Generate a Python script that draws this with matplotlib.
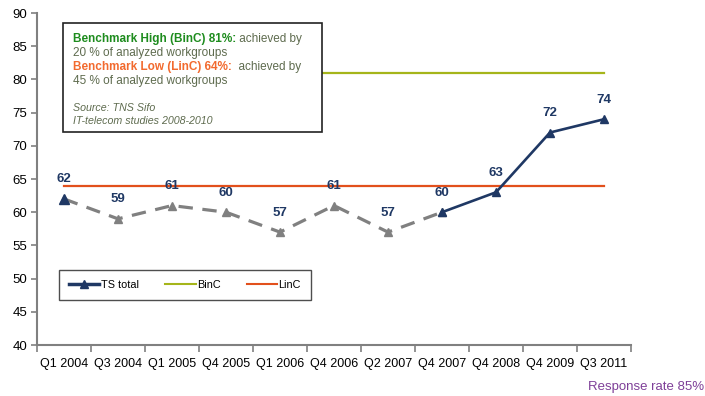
import matplotlib.pyplot as plt
from matplotlib.patches import Rectangle
from matplotlib.lines import Line2D
from matplotlib.text import Annotation

plt.rcParams['font.family'] = ['Liberation Sans', 'DejaVu Sans']

# survey rounds and total satisfaction score
quarters = ['Q1 2004', 'Q3 2004', 'Q1 2005', 'Q4 2005', 'Q1 2006', 'Q4 2006',
            'Q2 2007', 'Q4 2007', 'Q4 2008', 'Q4 2009', 'Q3 2011']
ts_total = [62, 59, 61, 60, 57, 61, 57, 60, 63, 72, 74]
binc = 81   # benchmark high
linc = 64   # benchmark low
split = 7   # rounds before this index are drawn dashed

navy = '#1F3864'
grey = '#808080'
c_binc = '#A5B51A'
c_linc = '#E2501C'

fig = plt.figure(figsize=(7.05, 3.96), dpi=100)
ax = fig.add_axes([37/705, 51/396, 594/705, 332/396])

x = list(range(len(quarters)))

# benchmark lines
ax.plot([x[0], x[-1]], [binc, binc], color=c_binc, lw=1.6, zorder=2)
ax.plot([x[0], x[-1]], [linc, linc], color=c_linc, lw=1.6, zorder=2)

# older rounds dashed grey, recent rounds solid navy
ax.plot(x[:split + 1], ts_total[:split + 1], color=grey, lw=2.3,
        dashes=(4.5, 3), marker='^', ms=6, mfc=grey, mec=grey, zorder=3)
ax.plot(x[split:], ts_total[split:], color=navy, lw=1.9,
        marker='^', ms=6, mfc=navy, mec=navy, zorder=4)
ax.plot(x[0], ts_total[0], marker='^', ms=7, color=navy, zorder=5)

for xi, v in zip(x, ts_total):
    ax.annotate(str(v), (xi, v), xytext=(0, 14), textcoords='offset points',
                ha='center', va='center', fontsize=9.5, fontweight='bold',
                color=navy, zorder=6)

ax.set_xlim(-0.5, len(quarters) - 0.5)
ax.set_ylim(40, 90)
ax.set_yticks(range(40, 91, 5))
ax.set_xticks(x)
ax.set_xticklabels(quarters)
ax.set_xticks([i - 0.5 for i in range(len(quarters) + 1)], minor=True)
ax.tick_params(axis='x', which='major', length=0, pad=9, labelsize=9)
ax.tick_params(axis='x', which='minor', length=5, width=1.2, color=grey)
ax.tick_params(axis='y', length=4, width=1.2, color=grey, labelsize=9.5, pad=3)
for s in ['top', 'right']:
    ax.spines[s].set_visible(False)
for s in ['left', 'bottom']:
    ax.spines[s].set_color(grey)
    ax.spines[s].set_linewidth(1.5)

# info box with benchmark description
box = Rectangle((63/705, 1 - 132/396), (322 - 63)/705, (132 - 23)/396,
                transform=fig.transFigure, facecolor='white',
                edgecolor='#222222', lw=1.2, zorder=7)
fig.add_artist(box)

txt = '#5E6B4E'
fs = 8.5
x0 = 73/705

def two_part(y, head, color, tail):
    t1 = fig.text(x0, 1 - y/396, head, color=color, fontsize=fs,
                  fontweight='bold', va='baseline', zorder=8)
    t2 = Annotation(tail, xy=(1, 0), xycoords=t1, va='bottom', ha='left',
                    color=txt, fontsize=fs, annotation_clip=False)
    t2.set_zorder(8)
    fig.add_artist(t2)

two_part(42, 'Benchmark High (BinC) 81%:', '#1E8C1E', ' achieved by')
fig.text(x0, 1 - 56/396, '20 % of analyzed workgroups', color=txt,
         fontsize=fs, va='baseline', zorder=8)
two_part(70, 'Benchmark Low (LinC) 64%:', '#F26A2E', '  achieved by')
fig.text(x0, 1 - 84/396, '45 % of analyzed workgroups', color=txt,
         fontsize=fs, va='baseline', zorder=8)
fig.text(x0, 1 - 111/396, 'Source: TNS Sifo', color=txt, fontsize=7.7,
         style='italic', va='baseline', zorder=8)
fig.text(x0, 1 - 124/396, 'IT-telecom studies 2008-2010', color=txt,
         fontsize=7.7, style='italic', va='baseline', zorder=8)

handles = [Line2D([], [], color=navy, lw=2.5, marker='^', ms=6),
           Line2D([], [], color=c_binc, lw=1.5),
           Line2D([], [], color=c_linc, lw=1.5)]
leg = ax.legend(handles, ['TS total', 'BinC', 'LinC'], ncol=3,
                loc='lower left', bbox_to_anchor=(17/594, 40/332, 262/594, 36/332),
                mode='expand', fontsize=7.8, frameon=True, fancybox=False,
                edgecolor='#222222', handlelength=2.8, handletextpad=0.1,
                borderpad=0.9, columnspacing=1.0)
leg.get_frame().set_linewidth(1.0)

fig.text(704/705, 1 - 387/396, 'Response rate 85%', color='#7E3F98',
         fontsize=9.5, ha='right', va='center')

fig.savefig('out.png', dpi=100)
